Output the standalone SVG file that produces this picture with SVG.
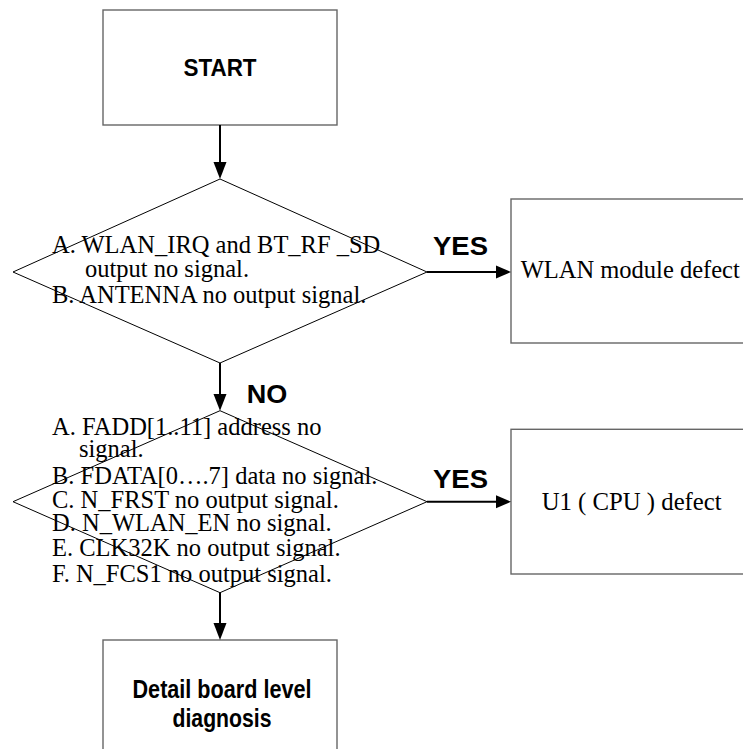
<svg xmlns="http://www.w3.org/2000/svg" width="743" height="749" viewBox="0 0 743 749">
<defs>
<style>
.box{fill:#fff;stroke:#666;stroke-width:1.4}
.dia{fill:#fff;stroke:#000;stroke-width:1}
.conn{stroke:#000;stroke-width:2;fill:none}
.head{fill:#000}
.serif{font-family:"Liberation Serif","Times New Roman",serif;font-size:24.5px;fill:#000}
.bold{font-family:"Liberation Sans",Arial,sans-serif;font-weight:bold;fill:#000}
</style>
</defs>
<rect width="743" height="749" fill="#fff"/>
<g id="start">
<rect class="box" x="103" y="10" width="234" height="115"/>
<text class="bold" x="220" y="76" font-size="24" text-anchor="middle" textLength="73" lengthAdjust="spacingAndGlyphs">START</text>
</g>
<g id="decision1">
<polygon class="dia" points="220,179 427,272 220,363 13,272"/>
<text class="serif" x="52" y="252.7">A. WLAN_IRQ and BT_RF _SD</text>
<text class="serif" x="85" y="277">output no signal.</text>
<text class="serif" x="52" y="302.5">B. ANTENNA no output signal.</text>
</g>
<g id="wlan">
<rect class="box" x="511" y="199" width="260" height="144"/>
<text class="serif" x="520.7" y="278">WLAN module defect</text>
</g>
<g id="decision2">
<polygon class="dia" points="220,410.7 427,501.7 220,592.7 13,501.7"/>
<text class="serif" x="52" y="435">A. FADD[1..11] address no</text>
<text class="serif" x="79" y="457">signal.</text>
<text class="serif" x="52" y="484">B. FDATA[0….7] data no signal.</text>
<text class="serif" x="52" y="507.5">C. N_FRST no output signal.</text>
<text class="serif" x="52" y="531">D. N_WLAN_EN no signal.</text>
<text class="serif" x="52" y="556">E. CLK32K no output signal.</text>
<text class="serif" x="52" y="582">F. N_FCS1 no output signal.</text>
</g>
<g id="cpu">
<rect class="box" x="511" y="429.3" width="260" height="144.7"/>
<text class="serif" x="541.7" y="510" textLength="180" lengthAdjust="spacingAndGlyphs">U1 ( CPU ) defect</text>
</g>
<g id="detail">
<rect class="box" x="103" y="640" width="234" height="130"/>
<text class="bold" x="222" y="698" font-size="26" text-anchor="middle" textLength="179" lengthAdjust="spacingAndGlyphs">Detail board level</text>
<text class="bold" x="222" y="727" font-size="26" text-anchor="middle" textLength="99" lengthAdjust="spacingAndGlyphs">diagnosis</text>
</g>
<g id="connectors">
<line class="conn" x1="220" y1="125" x2="220" y2="163"/>
<polygon class="head" points="213.5,162 226.5,162 220,179"/>
<line class="conn" x1="427" y1="272" x2="497" y2="272"/>
<polygon class="head" points="496,265.5 496,278.5 511,272"/>
<text class="bold" x="433" y="255" font-size="26" textLength="55" lengthAdjust="spacingAndGlyphs">YES</text>
<line class="conn" x1="220" y1="363" x2="220" y2="395"/>
<polygon class="head" points="213.5,394 226.5,394 220,410.7"/>
<text class="bold" x="246.7" y="403" font-size="26" textLength="40.6" lengthAdjust="spacingAndGlyphs">NO</text>
<line class="conn" x1="427" y1="501.7" x2="497" y2="501.7"/>
<polygon class="head" points="496,495.2 496,508.2 511,501.7"/>
<text class="bold" x="433" y="488.3" font-size="26" textLength="55" lengthAdjust="spacingAndGlyphs">YES</text>
<line class="conn" x1="220" y1="592.7" x2="220" y2="624"/>
<polygon class="head" points="213.5,623 226.5,623 220,640"/>
</g>
</svg>
